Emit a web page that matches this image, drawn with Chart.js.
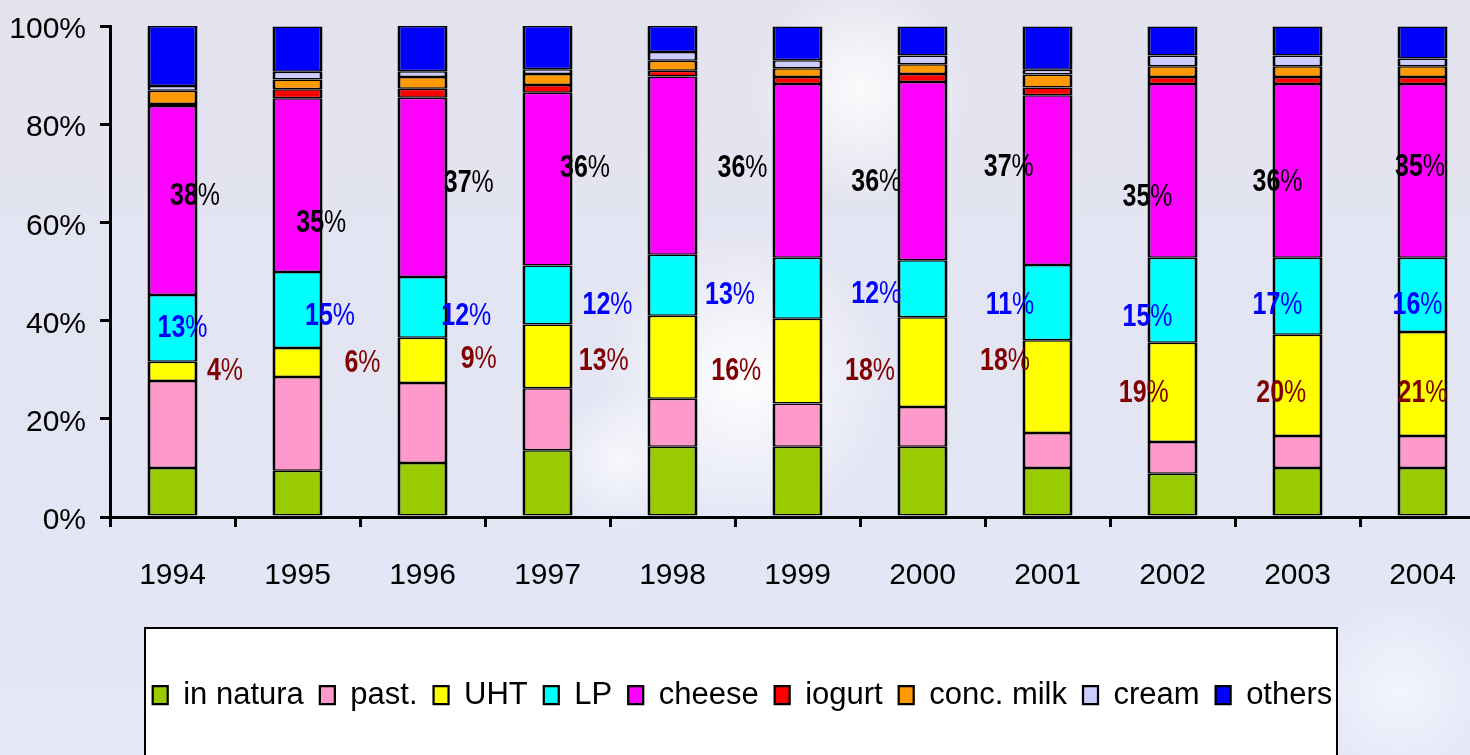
<!DOCTYPE html>
<html>
<head>
<meta charset="utf-8">
<title>Milk use by product</title>
<script src="https://cdn.jsdelivr.net/npm/chart.js@4.4.0/dist/chart.umd.min.js"></script>
<style>
  html, body { margin: 0; padding: 0; overflow: hidden; background: #e4e5f2; }
  #wrap { width: 1470px; height: 755px; overflow: hidden; }
</style>
</head>
<body>
<div id="wrap"><canvas id="milkChart" width="1500" height="755"></canvas></div>
<script>
// years and shares (% of total)
const years = ['1994', '1995', '1996', '1997', '1998', '1999', '2000', '2001', '2002', '2003', '2004'];
const inNatura = [10.0, 9.4, 11.0, 13.6, 14.3, 14.3, 14.3, 10.0, 8.8, 10.0, 10.0];
const past     = [17.7, 19.1, 16.3, 12.6, 9.8, 8.8, 8.1, 7.1, 6.5, 6.5, 6.5];
const uht      = [3.9, 5.9, 9.2, 13.0, 16.9, 17.3, 18.3, 18.9, 20.2, 20.6, 21.2];
const lp       = [13.6, 15.5, 12.4, 12.0, 12.4, 12.4, 11.6, 15.3, 17.3, 15.7, 15.1];
const cheese   = [38.5, 35.4, 36.5, 35.2, 36.3, 35.4, 36.3, 34.6, 35.4, 35.4, 35.4];
const iogurt   = [0.4, 1.8, 1.8, 1.6, 1.2, 1.4, 1.6, 1.6, 1.4, 1.4, 1.4];
const concMilk = [2.7, 2.0, 2.4, 2.2, 2.0, 1.8, 2.0, 2.6, 2.2, 2.2, 2.2];
const cream    = [1.0, 1.6, 1.2, 1.0, 1.8, 1.6, 1.8, 1.0, 2.2, 2.2, 1.6];
const others   = [12.2, 9.2, 9.2, 8.8, 5.3, 6.9, 5.9, 8.8, 5.9, 5.9, 6.5];

const yTicks = [0, 20, 40, 60, 80, 100];

// the percentage texts floating over the bars (10 of each, they drift across the years)
const cheeseLabels = ['38%', '35%', '37%', '36%', '36%', '36%', '37%', '35%', '36%', '35%'];
const lpLabels     = ['13%', '15%', '12%', '12%', '13%', '12%', '11%', '15%', '17%', '16%'];
const uhtLabels    = ['4%', '6%', '9%', '13%', '16%', '18%', '18%', '19%', '20%', '21%'];

// where those texts sit: x in category units, y in axis %
const cheeseLabelX = [0.18, 1.19, 2.37, 3.30, 4.56, 5.63, 6.69, 7.80, 8.84, 9.98];
const cheeseLabelY = [65.4, 59.9, 68.0, 71.1, 71.1, 68.2, 71.3, 65.2, 68.2, 71.3];
const lpLabelX     = [0.08, 1.26, 2.35, 3.48, 4.46, 5.63, 6.70, 7.80, 8.84, 9.96];
const lpLabelY     = [38.4, 40.9, 40.9, 43.2, 45.2, 45.4, 43.2, 40.7, 43.2, 43.2];
const uhtLabelX    = [0.42, 1.52, 2.45, 3.45, 4.51, 5.58, 6.66, 7.77, 8.87, 10.0];
const uhtLabelY    = [29.6, 31.4, 32.2, 31.8, 29.6, 29.6, 31.7, 25.2, 25.2, 25.2];

const FONT = '"Liberation Sans", Arial, sans-serif';

function series(label, data, color) {
  return {
    label: label,
    data: data,
    backgroundColor: color,
    borderColor: '#000',
    borderWidth: { left: 3, right: 3, top: 1.5, bottom: 1.5 },
    borderSkipped: false,
    barPercentage: 0.4,
    categoryPercentage: 1.0
  };
}

// background, with the light streak, and the white legend box
const backdrop = {
  id: 'backdrop',
  beforeDraw(chart) {
    const ctx = chart.ctx;
    ctx.save();
    const g = ctx.createLinearGradient(0, 0, 0, 755);
    g.addColorStop(0, '#e3e3ee');
    g.addColorStop(1, '#e3e7f8');
    ctx.fillStyle = g;
    ctx.fillRect(0, 0, chart.width, chart.height);
    const spots = [[745, 380, 150, 0.95], [860, 90, 110, 0.85], [620, 460, 70, 0.7], [1400, 690, 90, 0.6]];
    spots.forEach(s => {
      const r = ctx.createRadialGradient(s[0], s[1], 0, s[0], s[1], s[2]);
      r.addColorStop(0, 'rgba(255,255,255,' + s[3] + ')');
      r.addColorStop(1, 'rgba(255,255,255,0)');
      ctx.fillStyle = r;
      ctx.fillRect(s[0] - s[2], s[1] - s[2], s[2] * 2, s[2] * 2);
    });
    ctx.fillStyle = '#fff';
    ctx.fillRect(145, 628, 1192, 140);
    ctx.strokeStyle = '#000';
    ctx.lineWidth = 2;
    ctx.strokeRect(145, 628, 1192, 140);
    ctx.restore();
  }
};

function drawPct(ctx, txt, x, y, color) {
  // digits bold, % thin, squeezed sideways like the original
  const num = txt.replace('%', '');
  ctx.save();
  ctx.translate(x, y);
  ctx.scale(0.78, 1);
  ctx.fillStyle = color;
  ctx.textBaseline = 'middle';
  ctx.textAlign = 'left';
  ctx.font = 'bold 32px ' + FONT;
  const w1 = ctx.measureText(num).width;
  ctx.font = '32px ' + FONT;
  const w2 = ctx.measureText('%').width;
  const sx = -(w1 + w2) / 2;
  ctx.font = 'bold 32px ' + FONT;
  ctx.fillText(num, sx, 0);
  ctx.font = '32px ' + FONT;
  ctx.fillText('%', sx + w1, 0);
  ctx.restore();
}

const pctLabels = {
  id: 'pctLabels',
  afterDatasetsDraw(chart) {
    const ctx = chart.ctx;
    const xs = chart.scales.x, ys = chart.scales.y;
    const groups = [
      [cheeseLabels, cheeseLabelX, cheeseLabelY, '#000000'],
      [lpLabels, lpLabelX, lpLabelY, '#0000ff'],
      [uhtLabels, uhtLabelX, uhtLabelY, '#800000']
    ];
    groups.forEach(gr => {
      gr[0].forEach((t, i) => {
        drawPct(ctx, t, xs.getPixelForValue(gr[1][i]), ys.getPixelForValue(gr[2][i]), gr[3]);
      });
    });
  }
};

new Chart(document.getElementById('milkChart'), {
  type: 'bar',
  data: {
    labels: years,
    datasets: [
      series('in natura', inNatura, '#99cc00'),
      series('past.', past, '#ff99cc'),
      series('UHT', uht, '#ffff00'),
      series('LP', lp, '#00ffff'),
      series('cheese', cheese, '#ff00ff'),
      series('iogurt', iogurt, '#ff0000'),
      series('conc. milk', concMilk, '#ff9900'),
      series('cream', cream, '#ccccff'),
      series('others', others, '#0000ff')
    ]
  },
  options: {
    responsive: false,
    animation: false,
    devicePixelRatio: 1,
    layout: { padding: { top: 26, right: 15, left: 0, bottom: 34.5 } },
    scales: {
      x: {
        stacked: true,
        grid: { offset: true, drawOnChartArea: false, drawTicks: true, tickLength: 10, color: '#000', lineWidth: 3 },
        border: { color: '#000', width: 3 },
        ticks: { color: '#000', font: { family: FONT, size: 30 }, padding: 31 },
        afterFit(scale) { scale.height = 146.5; scale.paddingLeft = 0; scale.paddingRight = 0; }
      },
      y: {
        stacked: true,
        min: 0,
        max: 100,
        afterBuildTicks(scale) { scale.ticks = yTicks.map(v => ({ value: v })); },
        grid: { drawOnChartArea: false, drawTicks: true, tickLength: 10, color: '#000', lineWidth: 3 },
        border: { color: '#000', width: 3 },
        ticks: { color: '#000', font: { family: FONT, size: 30 }, padding: 14, labelOffset: 4, callback: v => v + '%' },
        afterFit(scale) { scale.width = 110; scale.paddingTop = 0; scale.paddingBottom = 0; }
      }
    },
    plugins: {
      legend: {
        position: 'bottom',
        labels: {
          color: '#000',
          font: { family: FONT, size: 31 },
          boxWidth: 15,
          boxHeight: 18,
          padding: 16
        }
      },
      tooltip: { enabled: false },
      title: { display: false }
    }
  },
  plugins: [backdrop, pctLabels]
});
</script>
</body>
</html>
